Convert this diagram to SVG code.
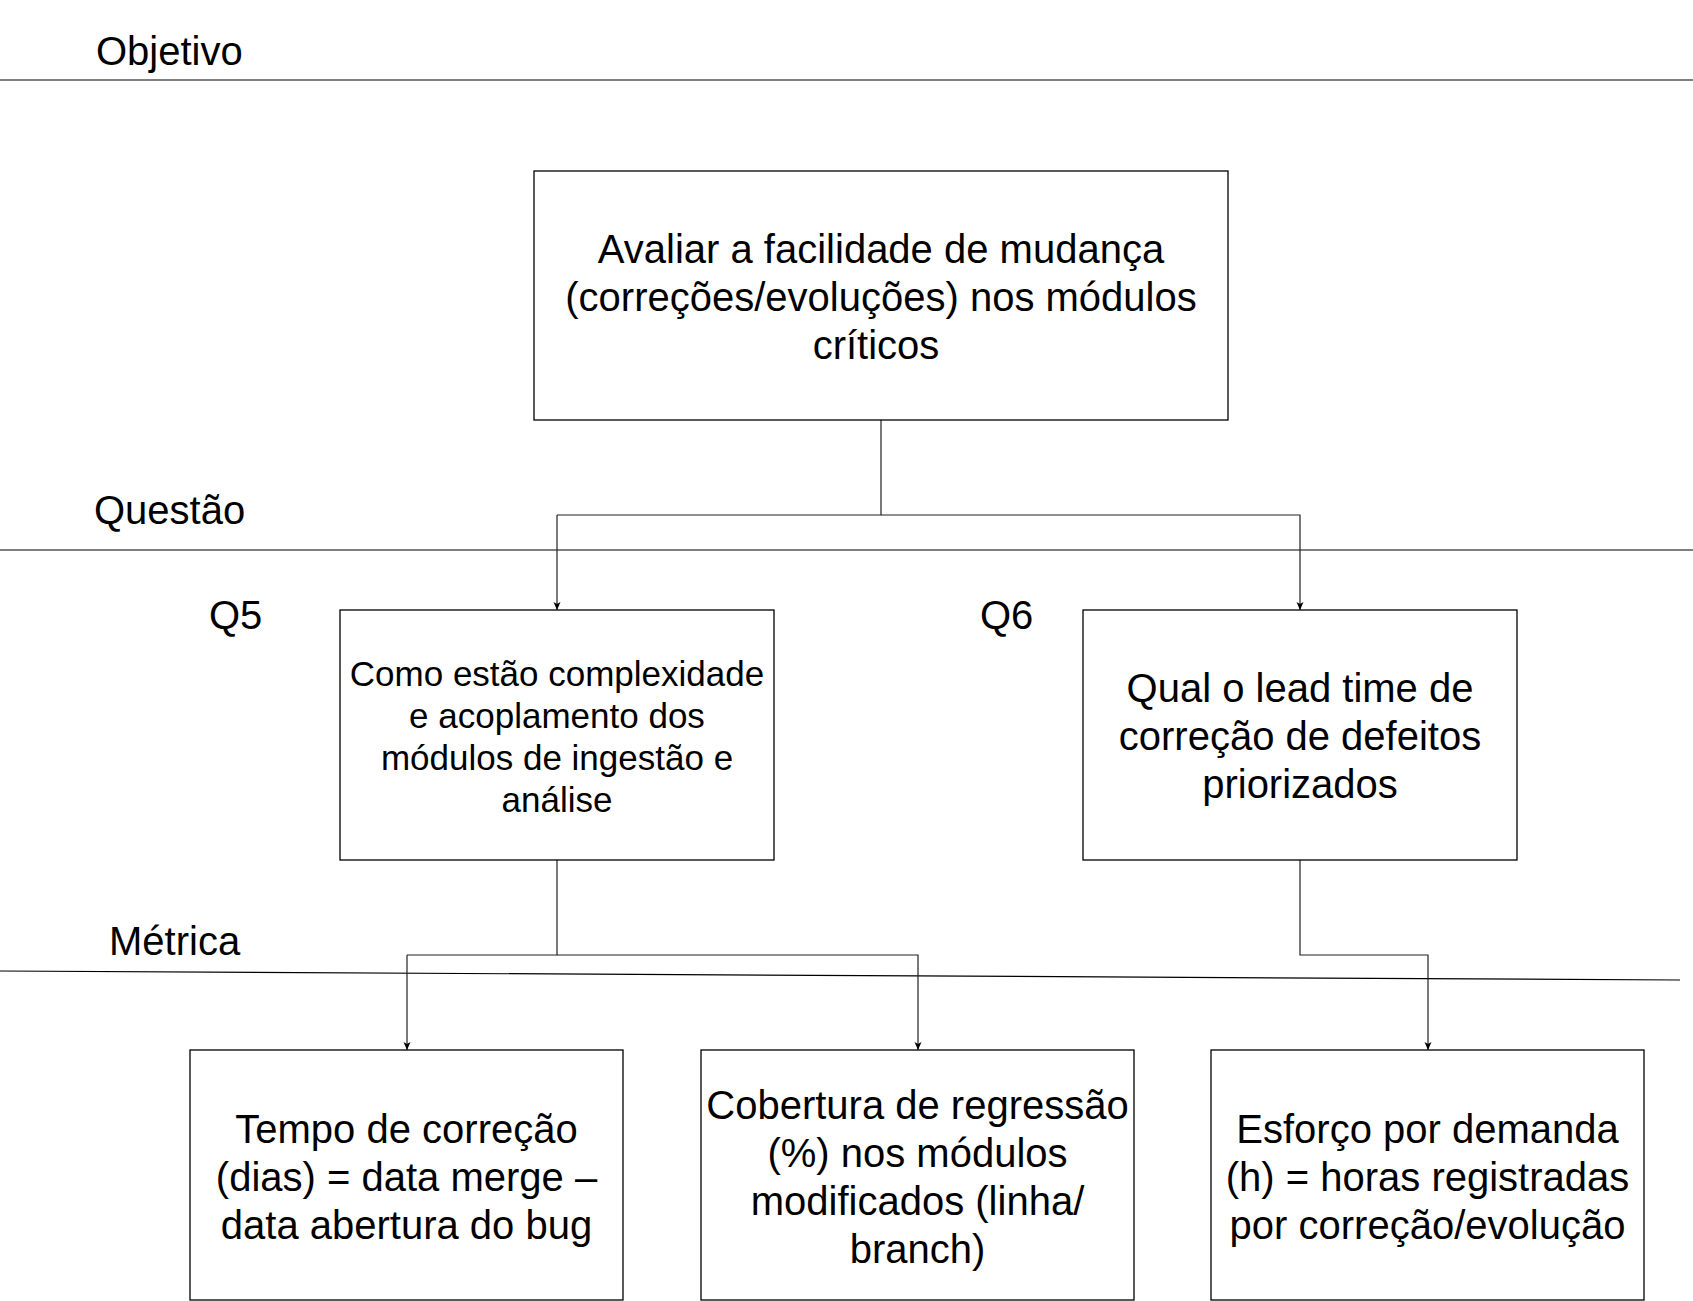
<svg xmlns="http://www.w3.org/2000/svg" width="1693" height="1301" viewBox="0 0 1693 1301">
<style>
text{font-family:"Liberation Sans",Arial,sans-serif;fill:#000;}
.lbl{font-size:40px;}
.t40{font-size:40px;text-anchor:middle;}
.t35{font-size:35px;text-anchor:middle;}
.box{fill:#fff;stroke:#000;stroke-width:1.3;}
.sep{stroke:#000;stroke-width:1.2;fill:none;}
.conn{stroke:#222;stroke-width:1.2;fill:none;marker-end:url(#arr);}
.plain{stroke:#222;stroke-width:1.2;fill:none;}
</style>
<defs>
<marker id="arr" markerUnits="userSpaceOnUse" markerWidth="10" markerHeight="10" refX="8" refY="4.5" orient="auto" viewBox="0 0 10 9">
<path d="M0,1 L8,4.5 L0,8 L2,4.5 z" fill="#000"/>
</marker>
</defs>
<rect width="1693" height="1301" fill="#fff"/>
<g id="separators">
<line class="sep" x1="0" y1="80" x2="1693" y2="80"/>
<line class="sep" x1="0" y1="550" x2="1693" y2="550"/>
<line class="sep" x1="0" y1="971" x2="1680" y2="980"/>
</g>
<g id="labels">
<text class="lbl" x="96" y="65">Objetivo</text>
<text class="lbl" x="94" y="524">Questão</text>
<text class="lbl" x="109" y="955">Métrica</text>
<text class="lbl" x="209" y="629">Q5</text>
<text class="lbl" x="980" y="629">Q6</text>
</g>
<g id="connectors">
<path class="plain" d="M881,420 V515 H557"/>
<path class="conn" d="M557,515 V610"/>
<path class="conn" d="M881,515 H1300 V610"/>
<path class="plain" d="M557,860 V955 H407"/>
<path class="conn" d="M407,955 V1050"/>
<path class="conn" d="M557,955 H918 V1050"/>
<path class="conn" d="M1300,860 V955 H1428 V1050"/>
</g>
<g id="goal">
<rect class="box" x="534" y="171" width="694" height="249"/>
<text class="t40" x="881" y="263">Avaliar a facilidade de mudança</text>
<text class="t40" x="881" y="311">(correções/evoluções) nos módulos</text>
<text class="t40" x="876" y="359">críticos</text>
</g>
<g id="q5">
<rect class="box" x="340" y="610" width="434" height="250"/>
<text class="t35" x="557" y="686">Como estão complexidade</text>
<text class="t35" x="557" y="728">e acoplamento dos</text>
<text class="t35" x="557" y="770">módulos de ingestão e</text>
<text class="t35" x="557" y="812">análise</text>
</g>
<g id="q6">
<rect class="box" x="1083" y="610" width="434" height="250"/>
<text class="t40" x="1300" y="702">Qual o lead time de</text>
<text class="t40" x="1300" y="750">correção de defeitos</text>
<text class="t40" x="1300" y="798">priorizados</text>
</g>
<g id="m1">
<rect class="box" x="190" y="1050" width="433" height="250"/>
<text class="t40" x="406.5" y="1143">Tempo de correção</text>
<text class="t40" x="406.5" y="1191">(dias) = data merge –</text>
<text class="t40" x="406.5" y="1239">data abertura do bug</text>
</g>
<g id="m2">
<rect class="box" x="701" y="1050" width="433" height="250"/>
<text class="t40" x="917.5" y="1119">Cobertura de regressão</text>
<text class="t40" x="917.5" y="1167">(%) nos módulos</text>
<text class="t40" x="917.5" y="1215">modificados (linha/</text>
<text class="t40" x="917.5" y="1263">branch)</text>
</g>
<g id="m3">
<rect class="box" x="1211" y="1050" width="433" height="250"/>
<text class="t40" x="1427.5" y="1143">Esforço por demanda</text>
<text class="t40" x="1427.5" y="1191">(h) = horas registradas</text>
<text class="t40" x="1427.5" y="1239">por correção/evolução</text>
</g>
</svg>
